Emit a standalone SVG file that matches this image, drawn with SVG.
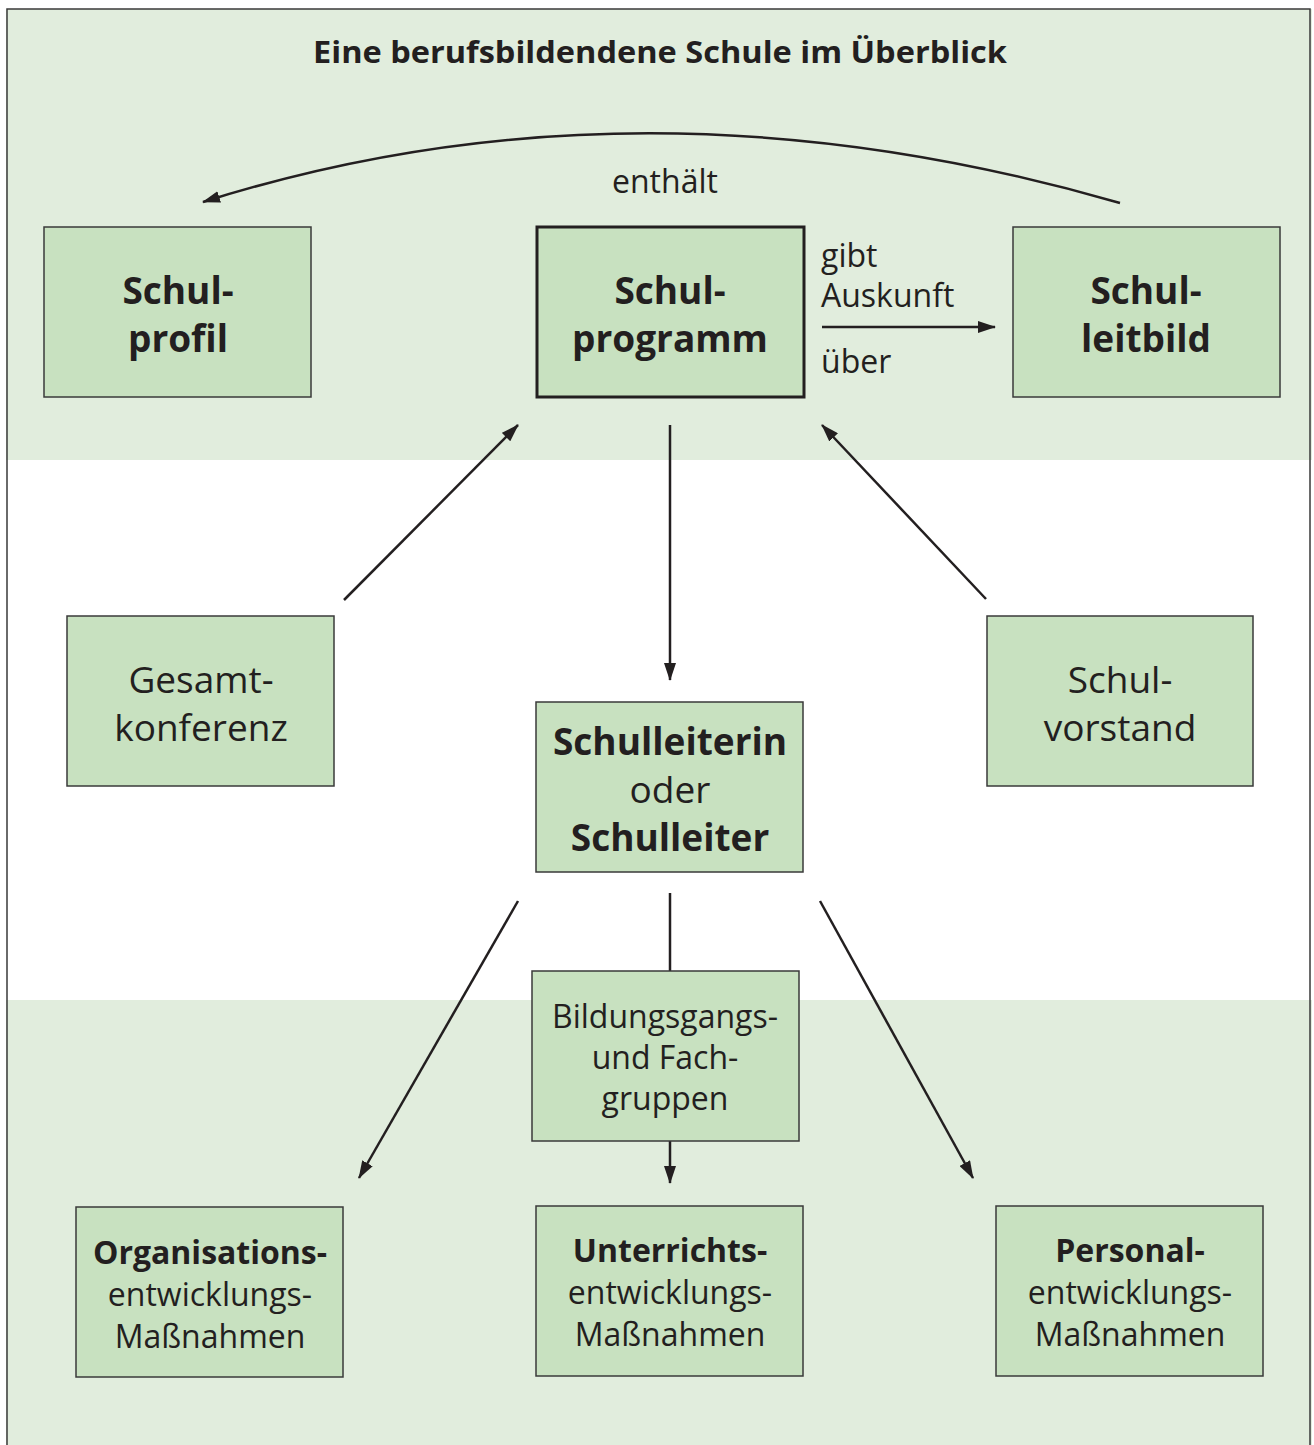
<svg xmlns="http://www.w3.org/2000/svg" width="1314" height="1445" viewBox="0 0 1314 1445">
<defs>
<marker id="ah" viewBox="0 0 18 12" refX="17" refY="6" markerWidth="18" markerHeight="12" markerUnits="userSpaceOnUse" orient="auto">
<path d="M0,0 L18,6 L0,12 Z" fill="#231f20"/>
</marker>
<style>
.box{fill:#c8e1c0;stroke:#3a3a3a;stroke-width:1.5}
.boxb{fill:#c8e1c0;stroke:#231f20;stroke-width:3}
text{font-family:"Open Sans","Noto Sans",sans-serif;fill:#231f20;text-anchor:middle}
.b{font-weight:bold}
.big{font-size:37px}
.mid{font-size:32px}
.lab{font-size:32px;text-anchor:start}
.con{fill:none;stroke:#231f20;stroke-width:2.5}
</style>
</defs>
<rect x="0" y="0" width="1314" height="1445" fill="#ffffff"/>
<rect x="6" y="9" width="1306" height="451" fill="#e1eddd"/>
<rect x="6" y="1000" width="1306" height="445" fill="#e1eddd"/>
<path d="M7,1445 V9 H1310 V1445" fill="none" stroke="#3a3a3a" stroke-width="1.5"/>
<text x="660" y="63" class="b" font-size="31" textLength="694" lengthAdjust="spacingAndGlyphs">Eine berufsbildendene Schule im Überblick</text>

<g id="connectors">
<path class="con" d="M1120,203 Q640,64 203,202" marker-end="url(#ah)"/>
<line class="con" x1="822" y1="327" x2="995" y2="327" marker-end="url(#ah)"/>
<line class="con" x1="344" y1="600" x2="518" y2="425" marker-end="url(#ah)"/>
<line class="con" x1="986" y1="599" x2="822" y2="425" marker-end="url(#ah)"/>
<line class="con" x1="670" y1="425" x2="670" y2="680" marker-end="url(#ah)"/>
<line class="con" x1="518" y1="901" x2="359" y2="1178" marker-end="url(#ah)"/>
<line class="con" x1="670" y1="893" x2="670" y2="971"/>
<line class="con" x1="670" y1="1141" x2="670" y2="1183" marker-end="url(#ah)"/>
<line class="con" x1="820" y1="901" x2="973" y2="1178" marker-end="url(#ah)"/>
<text class="lab" x="612" y="193" font-size="31">enthält</text>
<text class="lab" x="821" y="267">gibt</text>
<text class="lab" x="821" y="307">Auskunft</text>
<text class="lab" x="821" y="373">über</text>
</g>

<g id="schulprofil">
<rect class="box" x="44" y="227" width="267" height="170"/>
<text class="b big" x="178" y="304">Schul-</text>
<text class="b big" x="178" y="352">profil</text>
</g>
<g id="schulprogramm">
<rect class="boxb" x="537" y="227" width="267" height="170"/>
<text class="b big" x="670" y="304">Schul-</text>
<text class="b big" x="670" y="352">programm</text>
</g>
<g id="schulleitbild">
<rect class="box" x="1013" y="227" width="267" height="170"/>
<text class="b big" x="1146" y="304">Schul-</text>
<text class="b big" x="1146" y="352">leitbild</text>
</g>
<g id="gesamtkonferenz">
<rect class="box" x="67" y="616" width="267" height="170"/>
<text class="big" x="201" y="693">Gesamt-</text>
<text class="big" x="201" y="741">konferenz</text>
</g>
<g id="schulvorstand">
<rect class="box" x="987" y="616" width="266" height="170"/>
<text class="big" x="1120" y="693">Schul-</text>
<text class="big" x="1120" y="741">vorstand</text>
</g>
<g id="schulleitung">
<rect class="box" x="536" y="702" width="267" height="170"/>
<text class="b big" x="670" y="755">Schulleiterin</text>
<text class="big" x="670" y="803">oder</text>
<text class="b big" x="670" y="851">Schulleiter</text>
</g>
<g id="bildungsgaenge">
<rect class="box" x="532" y="971" width="267" height="170"/>
<text class="mid" x="665" y="1028">Bildungsgangs-</text>
<text class="mid" x="665" y="1069">und Fach-</text>
<text class="mid" x="665" y="1110">gruppen</text>
</g>
<g id="organisation">
<rect class="box" x="76" y="1207" width="267" height="170"/>
<text class="b mid" x="210" y="1264">Organisations-</text>
<text class="mid" x="210" y="1306">entwicklungs-</text>
<text class="mid" x="210" y="1348">Maßnahmen</text>
</g>
<g id="unterricht">
<rect class="box" x="536" y="1206" width="267" height="170"/>
<text class="b mid" x="670" y="1262">Unterrichts-</text>
<text class="mid" x="670" y="1304">entwicklungs-</text>
<text class="mid" x="670" y="1346">Maßnahmen</text>
</g>
<g id="personal">
<rect class="box" x="996" y="1206" width="267" height="170"/>
<text class="b mid" x="1130" y="1262">Personal-</text>
<text class="mid" x="1130" y="1304">entwicklungs-</text>
<text class="mid" x="1130" y="1346">Maßnahmen</text>
</g>
</svg>
